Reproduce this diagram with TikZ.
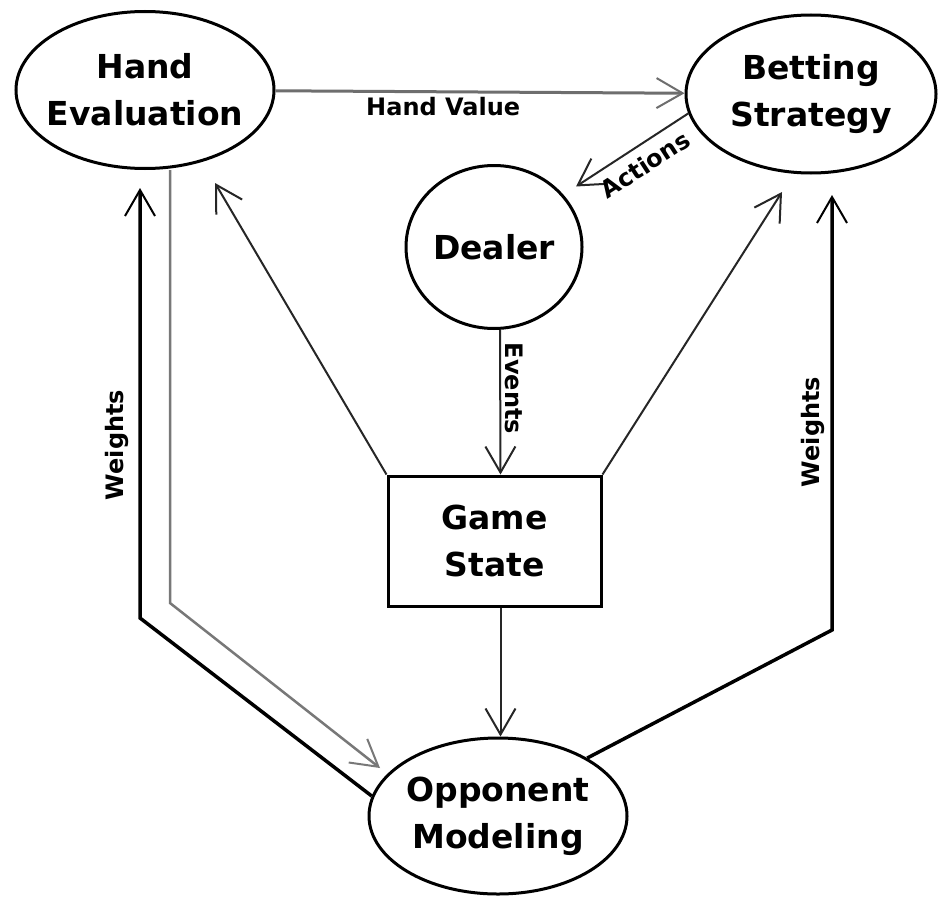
\documentclass[tikz,border=0pt]{standalone}
\usepackage{fontspec}
\setmainfont{DejaVu Sans}
\usetikzlibrary{arrows.meta,shapes.geometric}

\definecolor{linkgray}{HTML}{6E6E6E}
\definecolor{feedgray}{HTML}{787878}
\definecolor{darkline}{HTML}{262626}

\begin{document}
\begin{tikzpicture}[x=1pt,y=-1pt,
  ell/.style={ellipse, draw=black, line width=3pt, fill=white, inner sep=0pt},
  box/.style={rectangle, draw=black, line width=3pt, fill=white, inner sep=0pt},
  big/.style={font=\fontsize{33}{47}\selectfont\bfseries, align=center},
  lbl/.style={font=\fontsize{24}{28}\selectfont\bfseries, inner sep=1pt},
  barb/.style={-{Straight Barb[length=26pt,width=30pt,line width=2pt]}},
  arr/.style={barb, line width=2pt, draw=darkline},
  wtarr/.style={barb, line width=3.5pt, draw=black},
]
% canvas
\path[use as bounding box, fill=white] (0,0) rectangle (939,899);

% components
\node[ell, minimum width=258, minimum height=157,
      label={[big]center:{Hand\\Evaluation}}] (he) at (145,90) {};
\node[ell, minimum width=250, minimum height=158,
      label={[big]center:{Betting\\Strategy}}] (bs) at (811,94) {};
\node[ell, minimum width=176, minimum height=163,
      label={[big]center:{Dealer}}] (dl) at (494,247) {};
\node[box, minimum width=213, minimum height=130, big] (gs) at (494.5,541) {Game\\State};
\node[ell, minimum width=258, minimum height=156,
      label={[big]center:{Opponent\\Modeling}}] (os) at (498,816) {};

% free ends of connectors
\coordinate (heIn) at (215,183);
\coordinate (bsIn) at (782,192);
\coordinate (wl1) at (140,618);
\coordinate (wl2) at (140,188);
\coordinate (g1) at (170,603);
\coordinate (g2) at (380,768);
\coordinate (wr1) at (832,630);
\coordinate (wr2) at (832,195);

% hand value
\draw[barb, line width=3pt, draw=linkgray] (he) -- node[lbl, pos=0.41, below=3pt] {Hand Value} (bs);

% actions
\draw[arr, draw=darkline, shorten >=15pt] (bs.189) -- node[lbl, pos=0.43, sloped, below=8pt] {Actions} (dl.37);

% events
\draw[arr] ([xshift=6pt]dl.south) -- node[lbl, pos=0.405, rotate=-90, anchor=south, inner sep=4pt] {Events} ([xshift=6pt]gs.north);

% game state outputs
\draw[arr] (gs.north west) -- (heIn);
\draw[arr] (gs.north east) -- (bsIn);
\draw[arr] ([xshift=6pt]gs.south) -- ([xshift=6pt]gs.south |- os.north);

% hand evaluation feeding opponent modeling
\draw[barb, line width=2.5pt, draw=feedgray] (he.south -| g1) -- (g1) -- (g2);

% weights back to evaluation and strategy
\draw[wtarr] (os.171) -- (wl1) -- (wl2);
\draw[wtarr] (os.33) -- (wr1) -- (wr2);
\node[lbl, rotate=90] (wlab1) at (117,445) {Weights};
\node[lbl, rotate=90] (wlab2) at (813,432) {Weights};

\end{tikzpicture}
\end{document}
